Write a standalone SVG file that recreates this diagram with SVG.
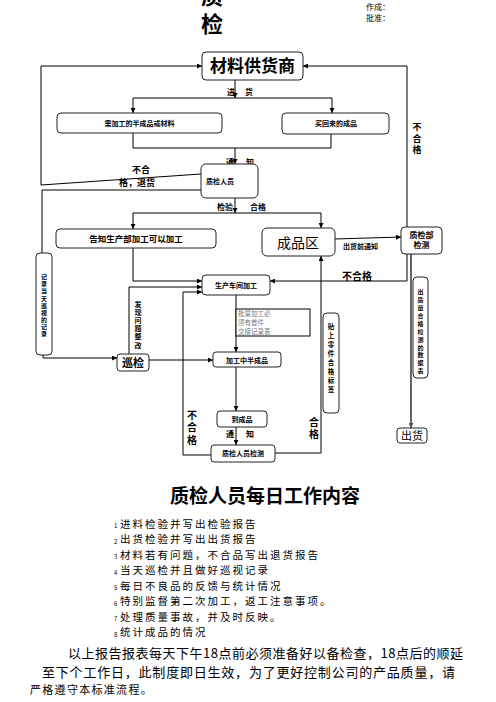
<svg xmlns="http://www.w3.org/2000/svg" width="496" height="702" viewBox="0 0 496 702">
<defs>
<marker id="ah" markerWidth="5" markerHeight="5" refX="5" refY="2.5" orient="auto" markerUnits="userSpaceOnUse">
<path d="M0,0 L5,2.5 L0,5 z" fill="#000"/>
</marker>
<marker id="ahg" markerWidth="5" markerHeight="5" refX="5" refY="2.5" orient="auto" markerUnits="userSpaceOnUse">
<path d="M0,0 L5,2.5 L0,5 z" fill="#555"/>
</marker>
<style>
text{font-family:"Noto Sans CJK SC","Liberation Sans",sans-serif;fill:#000}
.b{font-weight:bold}
.box{fill:#fff;stroke:#222;stroke-width:1}
.c{fill:none;stroke:#000;stroke-width:1}
.m{text-anchor:middle}
.v{writing-mode:vertical-rl;text-orientation:upright}
.li{font-size:10.5px;letter-spacing:2px}
</style>
</defs>
<rect width="496" height="702" fill="#fff"/>

<g id="header">
<text x="201" y="4" font-size="22" class="b">质</text>
<text x="201" y="32" font-size="22" class="b">检</text>
<text x="366" y="10" font-size="8" fill="#333">作成：</text>
<text x="366" y="21" font-size="8" fill="#333">批准：</text>
</g>

<g id="connectors">
<path class="c" d="M235,80 V98" marker-end="url(#ah)"/>
<path class="c" d="M133,98 H332"/>
<path class="c" d="M133,98 V113" marker-end="url(#ah)"/>
<path class="c" d="M332,98 V113" marker-end="url(#ah)"/>
<path class="c" d="M133,133 V148 H331 V134"/>
<path class="c" d="M235,148 V164" marker-end="url(#ah)"/>
<path class="c" d="M201,174 L41,185 V66 H202" marker-end="url(#ah)"/>
<path class="c" d="M201,190 H42 V253"/>
<path class="c" d="M235,198 V213" marker-end="url(#ah)"/>
<path class="c" d="M133,213 H321"/>
<path class="c" d="M133,213 V229" marker-end="url(#ah)"/>
<path class="c" d="M321,213 V228" marker-end="url(#ah)"/>
<path class="c" d="M133,248 V281 H202" marker-end="url(#ah)"/>
<path class="c" d="M43,355 V358 H117" marker-end="url(#ah)"/>
<path class="c" d="M129,354 V287 H202" marker-end="url(#ah)"/>
<path class="c" d="M149,360 H213" marker-end="url(#ah)"/>
<path class="c" d="M236,295 V352" marker-end="url(#ah)"/>
<path class="c" d="M236,367 V411" marker-end="url(#ah)"/>
<path class="c" d="M236,427 V445" marker-end="url(#ah)"/>
<path class="c" d="M211,455 H183 V292 H202" marker-end="url(#ah)"/>
<path class="c" d="M275,453 H321 V256" marker-end="url(#ah)"/>
<path class="c" d="M335,239 L401,237" marker-end="url(#ah)"/>
<path class="c" d="M407,227 V66 H303" marker-end="url(#ah)"/>
<path class="c" d="M407,254 V281 H270" marker-end="url(#ah)"/>
<path fill="none" stroke="#666" stroke-width="2" d="M411,254 V428" marker-end="url(#ahg)"/>
</g>

<g id="labels">
<text x="227" y="95" font-size="8" class="b">进</text>
<text x="245" y="95" font-size="8" class="b">货</text>
<text x="226" y="165" font-size="8" class="b">通</text>
<text x="246" y="165" font-size="8" class="b">知</text>
<text x="132" y="173" font-size="9" class="b">不合</text>
<text x="119" y="186" font-size="9" class="b">格，退货</text>
<text x="217" y="210" font-size="8" class="b">检验</text>
<text x="250" y="210" font-size="8" class="b">合格</text>
<text x="343" y="249" font-size="7" class="b">出货前通知</text>
<text x="342" y="280" font-size="10" class="b">不合格</text>
<text x="417" y="122.5" font-size="9" class="b v" letter-spacing="2.5">不合格</text>
<text x="138" y="300.5" font-size="7" class="b v" letter-spacing="1.2">发现问题整改</text>
<text x="192" y="410" font-size="10" class="b v" letter-spacing="2.5">不合格</text>
<text x="226" y="437" font-size="8" class="b">通</text>
<text x="246" y="437" font-size="8" class="b">知</text>
<text x="314" y="417" font-size="10" class="b v" letter-spacing="2">合格</text>
</g>

<g id="n-supplier">
<rect class="box" x="202" y="52" width="101" height="28" rx="4"/>
<text x="252.5" y="72" font-size="17" class="b m">材料供货商</text>
</g>
<g id="n-semi">
<rect class="box" x="57" y="113" width="165" height="20" rx="4"/>
<text x="139.5" y="125.5" font-size="7" class="b m">需加工的半成品或材料</text>
</g>
<g id="n-bought">
<rect class="box" x="282" y="113" width="107" height="21" rx="4"/>
<text x="336" y="126" font-size="7" class="b m">买回来的成品</text>
</g>
<g id="n-qc">
<rect class="box" x="201" y="164" width="57" height="34" rx="5"/>
<text x="206" y="184" font-size="7" class="b">质检人员</text>
</g>
<g id="n-notify">
<rect class="box" x="56" y="229" width="160" height="19" rx="4"/>
<text x="136" y="241.5" font-size="8.5" class="b m">告知生产部加工可以加工</text>
</g>
<g id="n-finished">
<rect class="box" x="262" y="228" width="73" height="28" rx="5"/>
<text x="298" y="248" font-size="14" class="m">成品区</text>
</g>
<g id="n-qcdept">
<rect class="box" x="401" y="227" width="41" height="27" rx="4"/>
<text x="421.5" y="238" font-size="8" class="b m">质检部</text>
<text x="421.5" y="248" font-size="8" class="b m">检测</text>
</g>
<g id="n-record">
<rect class="box" x="36" y="253" width="16" height="102" rx="4"/>
<text x="44" y="274" font-size="6" class="b v" letter-spacing="1.1">记录当天巡视的记录</text>
</g>
<g id="n-workshop">
<rect class="box" x="202" y="275" width="68" height="20" rx="4"/>
<text x="236" y="287.5" font-size="7" class="b m">生产车间加工</text>
</g>
<g id="n-note">
<rect x="236" y="309" width="74" height="27" fill="#fff" stroke="#000" stroke-width="1"/>
<text x="238" y="316" font-size="6.5" style="fill:#777">批量加工必</text>
<text x="238" y="325" font-size="6.5" style="fill:#777">须有首件</text>
<text x="238" y="334" font-size="6.5" style="fill:#777">交接记录表</text>
</g>
<g id="n-patrol">
<rect class="box" x="117" y="354" width="32" height="17" rx="3"/>
<text x="133" y="367" font-size="11" class="b m">巡检</text>
</g>
<g id="n-semiwip">
<rect class="box" x="213" y="352" width="68" height="15" rx="3"/>
<text x="247" y="362.5" font-size="7" class="b m">加工中半成品</text>
</g>
<g id="n-label">
<rect class="box" x="323" y="313" width="16" height="100" rx="4"/>
<text x="331" y="323.75" font-size="6.5" class="b v" letter-spacing="2.5">贴上零件合格标签</text>
</g>
<g id="n-datasheet">
<rect class="box" x="413" y="277" width="15" height="101" rx="4"/>
<text x="420.5" y="289" font-size="6" class="b v" letter-spacing="1.9">出质量合格检测的数据表</text>
</g>
<g id="n-tofinished">
<rect class="box" x="217" y="411" width="50" height="16" rx="3"/>
<text x="242" y="421.5" font-size="7" class="b m">到成品</text>
</g>
<g id="n-qccheck">
<rect class="box" x="211" y="445" width="64" height="17" rx="3"/>
<text x="243" y="456" font-size="7" class="b m">质检人员检测</text>
</g>
<g id="n-ship">
<rect class="box" x="397" y="428" width="30" height="15" rx="3"/>
<text x="412" y="439.5" font-size="11" class="m">出货</text>
</g>

<g id="content">
<text x="265" y="503" font-size="19" class="b m">质检人员每日工作内容</text>
<g>
<text class="li" x="120" y="527.5">进料检验并写出检验报告</text>
<text class="li" x="120" y="543">出货检验并写出出货报告</text>
<text class="li" x="120" y="558.5">材料若有问题，不合品写出退货报告</text>
<text class="li" x="120" y="574">当天巡检并且做好巡视记录</text>
<text class="li" x="120" y="589.5">每日不良品的反馈与统计情况</text>
<text class="li" x="120" y="605">特别监督第二次加工，返工注意事项。</text>
<text class="li" x="120" y="620.5">处理质量事故，并及时反映。</text>
<text class="li" x="120" y="636">统计成品的情况</text>
</g>
<g font-size="6" fill="#333">
<text x="114" y="528">1</text>
<text x="114" y="543.5">2</text>
<text x="114" y="559">3</text>
<text x="114" y="574.5">4</text>
<text x="114" y="590">5</text>
<text x="114" y="605.5">6</text>
<text x="114" y="621">7</text>
<text x="114" y="636.5">8</text>
</g>
<g font-size="13">
<text x="68" y="658" textLength="395" lengthAdjust="spacing">以上报告报表每天下午18点前必须准备好以备检查，18点后的顺延</text>
<text x="42" y="677" textLength="413" lengthAdjust="spacing">至下个工作日，此制度即日生效，为了更好控制公司的产品质量，请</text>
<text x="30" y="694" font-size="11" letter-spacing="1.3">严格遵守本标准流程。</text>
</g>
</g>
</svg>
